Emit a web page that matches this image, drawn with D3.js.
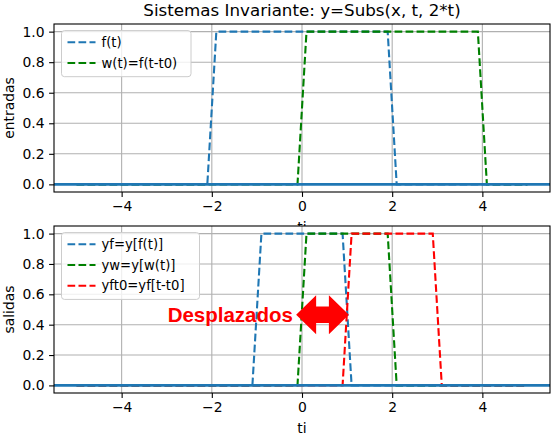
<!DOCTYPE html>
<html>
<head>
<meta charset="utf-8">
<script src="https://cdn.jsdelivr.net/npm/d3@7"></script>
<style>
  body { margin: 0; background: #fff; }
  text { font-family: "DejaVu Sans", sans-serif; }
</style>
</head>
<body>
<svg id="chart"></svg>
<script>
// breakpoints of each signal (t, value)
const t_f    = [-5, -2.1, -1.9, 1.9, 2.1, 5];
const f_v    = [0, 0, 1, 1, 0, 0];
const t_w    = [-5, -0.1, 0.1, 3.9, 4.1, 5];
const w_v    = [0, 0, 1, 1, 0, 0];
const t_yf   = [-5, -1.1, -0.9, 0.9, 1.1, 5];
const yf_v   = [0, 0, 1, 1, 0, 0];
const t_yw   = [-5, -0.1, 0.1, 1.9, 2.1, 5];
const yw_v   = [0, 0, 1, 1, 0, 0];
const t_yft0 = [-5, 0.9, 1.1, 2.9, 3.1, 5];
const yft0_v = [0, 0, 1, 1, 0, 0];

const xTicks = [-4, -2, 0, 2, 4];
const yTicks = [0, 0.2, 0.4, 0.6, 0.8, 1.0];

const topLabels = ["f(t)", "w(t)=f(t-t0)"];
const botLabels = ["yf=y[f(t)]", "yw=y[w(t)]", "yft0=yf[t-t0]"];

const blue = "#1f77b4", green = "green", red = "red";

const width = 554, height = 436;
const left = 54, right = 550;

const svg = d3.select("#chart").attr("width", width).attr("height", height);

const x = d3.scaleLinear().domain([-5.5, 5.5]).range([left, right]);

function zip(ts, vs) { return ts.map((t, i) => [t, vs[i]]); }

function drawPanel(top, bottom, series, ylab, legendW, id) {
  const y = d3.scaleLinear().domain([-0.05, 1.05]).range([bottom, top]);
  const g = svg.append("g");

  // white axes background (covers the label of the panel above)
  g.append("rect").attr("x", left).attr("y", top)
    .attr("width", right - left).attr("height", bottom - top).attr("fill", "#fff");

  // grid
  g.selectAll(".gx").data(xTicks).join("line")
    .attr("x1", d => x(d)).attr("x2", d => x(d)).attr("y1", top).attr("y2", bottom)
    .attr("stroke", "#b0b0b0").attr("stroke-width", 1.1);
  g.selectAll(".gy").data(yTicks).join("line")
    .attr("x1", left).attr("x2", right).attr("y1", d => y(d)).attr("y2", d => y(d))
    .attr("stroke", "#b0b0b0").attr("stroke-width", 1.1);

  svg.append("clipPath").attr("id", id)
    .append("rect").attr("x", left).attr("y", top)
    .attr("width", right - left).attr("height", bottom - top);

  const line = d3.line().x(d => x(d[0])).y(d => y(d[1]));
  const plot = g.append("g").attr("clip-path", `url(#${id})`);

  series.forEach(s => {
    plot.append("path").attr("d", line(s.data))
      .attr("fill", "none").attr("stroke", s.color).attr("stroke-width", 2.1)
      .attr("stroke-dasharray", "7.7,3.3");
  });

  // solid zero line across the whole axes
  plot.append("line").attr("x1", left).attr("x2", right)
    .attr("y1", y(0)).attr("y2", y(0))
    .attr("stroke", blue).attr("stroke-width", 2.6);

  // axes
  const xAxis = d3.axisBottom(x).tickValues(xTicks).tickFormat(d3.format("d"))
    .tickSize(4.9).tickPadding(4.5);
  const yAxis = d3.axisLeft(y).tickValues(yTicks).tickFormat(d3.format(".1f"))
    .tickSize(4.9).tickPadding(4.5);
  const ax = g.append("g").attr("transform", `translate(0,${bottom})`).call(xAxis);
  const ay = g.append("g").attr("transform", `translate(${left},0)`).call(yAxis);
  [ax, ay].forEach(a => {
    a.select(".domain").remove();
    a.selectAll("line").attr("stroke", "#000").attr("stroke-width", 1.1);
    a.selectAll("text").style("font-size", "13.9px").attr("fill", "#000")
      .style("font-family", "DejaVu Sans");
  });

  g.append("rect").attr("x", left).attr("y", top)
    .attr("width", right - left).attr("height", bottom - top)
    .attr("fill", "none").attr("stroke", "#000").attr("stroke-width", 1.1);

  g.append("text").attr("x", (left + right) / 2).attr("y", bottom + 40)
    .attr("text-anchor", "middle").style("font-size", "13.9px").text("ti");
  g.append("text")
    .attr("transform", `translate(14,${(top + bottom) / 2}) rotate(-90)`)
    .attr("text-anchor", "middle").style("font-size", "13.9px").text(ylab);

  // legend
  const lx = 61.5, ly = top + 6.6;
  const lh = 4.7 + series.length * 20.7;
  g.append("rect").attr("x", lx).attr("y", ly).attr("width", legendW).attr("height", lh)
    .attr("rx", 3).attr("fill", "#fff").attr("fill-opacity", 0.8)
    .attr("stroke", "#cccccc").attr("stroke-width", 1);
  series.forEach((s, i) => {
    const yy = ly + 11.7 + i * 20.7;
    g.append("line").attr("x1", lx + 6).attr("x2", lx + 34).attr("y1", yy).attr("y2", yy)
      .attr("stroke", s.color).attr("stroke-width", 2.1).attr("stroke-dasharray", "7.7,3.3");
    g.append("text").attr("x", lx + 40).attr("y", yy).attr("dy", "0.36em")
      .style("font-size", "13.2px").text(s.label);
  });

  return y;
}

// top panel: inputs
drawPanel(24, 192, [
  { data: zip(t_f, f_v), color: blue, label: topLabels[0] },
  { data: zip(t_w, w_v), color: green, label: topLabels[1] }
], "entradas", 129.5, "clipTop");

svg.append("text").attr("x", (left + right) / 2).attr("y", 16)
  .attr("text-anchor", "middle").style("font-size", "16.7px")
  .text("Sistemas Invariante: y=Subs(x, t, 2*t)");

// bottom panel: outputs
const yb = drawPanel(226, 393, [
  { data: zip(t_yf, yf_v), color: blue, label: botLabels[0] },
  { data: zip(t_yw, yw_v), color: green, label: botLabels[1] },
  { data: zip(t_yft0, yft0_v), color: red, label: botLabels[2] }
], "salidas", 138, "clipBot");

// annotation: text + double arrow
const annY = 0.465, arrowFrom = -0.13, arrowTo = 1.04;
const ay0 = yb(annY), ax0 = x(arrowFrom), ax1 = x(arrowTo);
const head = 20, hh = 19.5, sh = 8.3;
svg.append("path")
  .attr("d", `M${ax0},${ay0} L${ax0 + head},${ay0 - hh} L${ax0 + head},${ay0 - sh}
    L${ax1 - head},${ay0 - sh} L${ax1 - head},${ay0 - hh} L${ax1},${ay0}
    L${ax1 - head},${ay0 + hh} L${ax1 - head},${ay0 + sh} L${ax0 + head},${ay0 + sh}
    L${ax0 + head},${ay0 + hh} Z`)
  .attr("fill", "red");
svg.append("text").attr("x", x(-0.2)).attr("y", ay0).attr("dy", "0.36em")
  .attr("text-anchor", "end")
  .style("font-family", "Liberation Sans, Arial, sans-serif")
  .style("font-weight", "bold").style("font-size", "20.5px").attr("fill", "red")
  .text("Desplazados");
</script>
</body>
</html>
